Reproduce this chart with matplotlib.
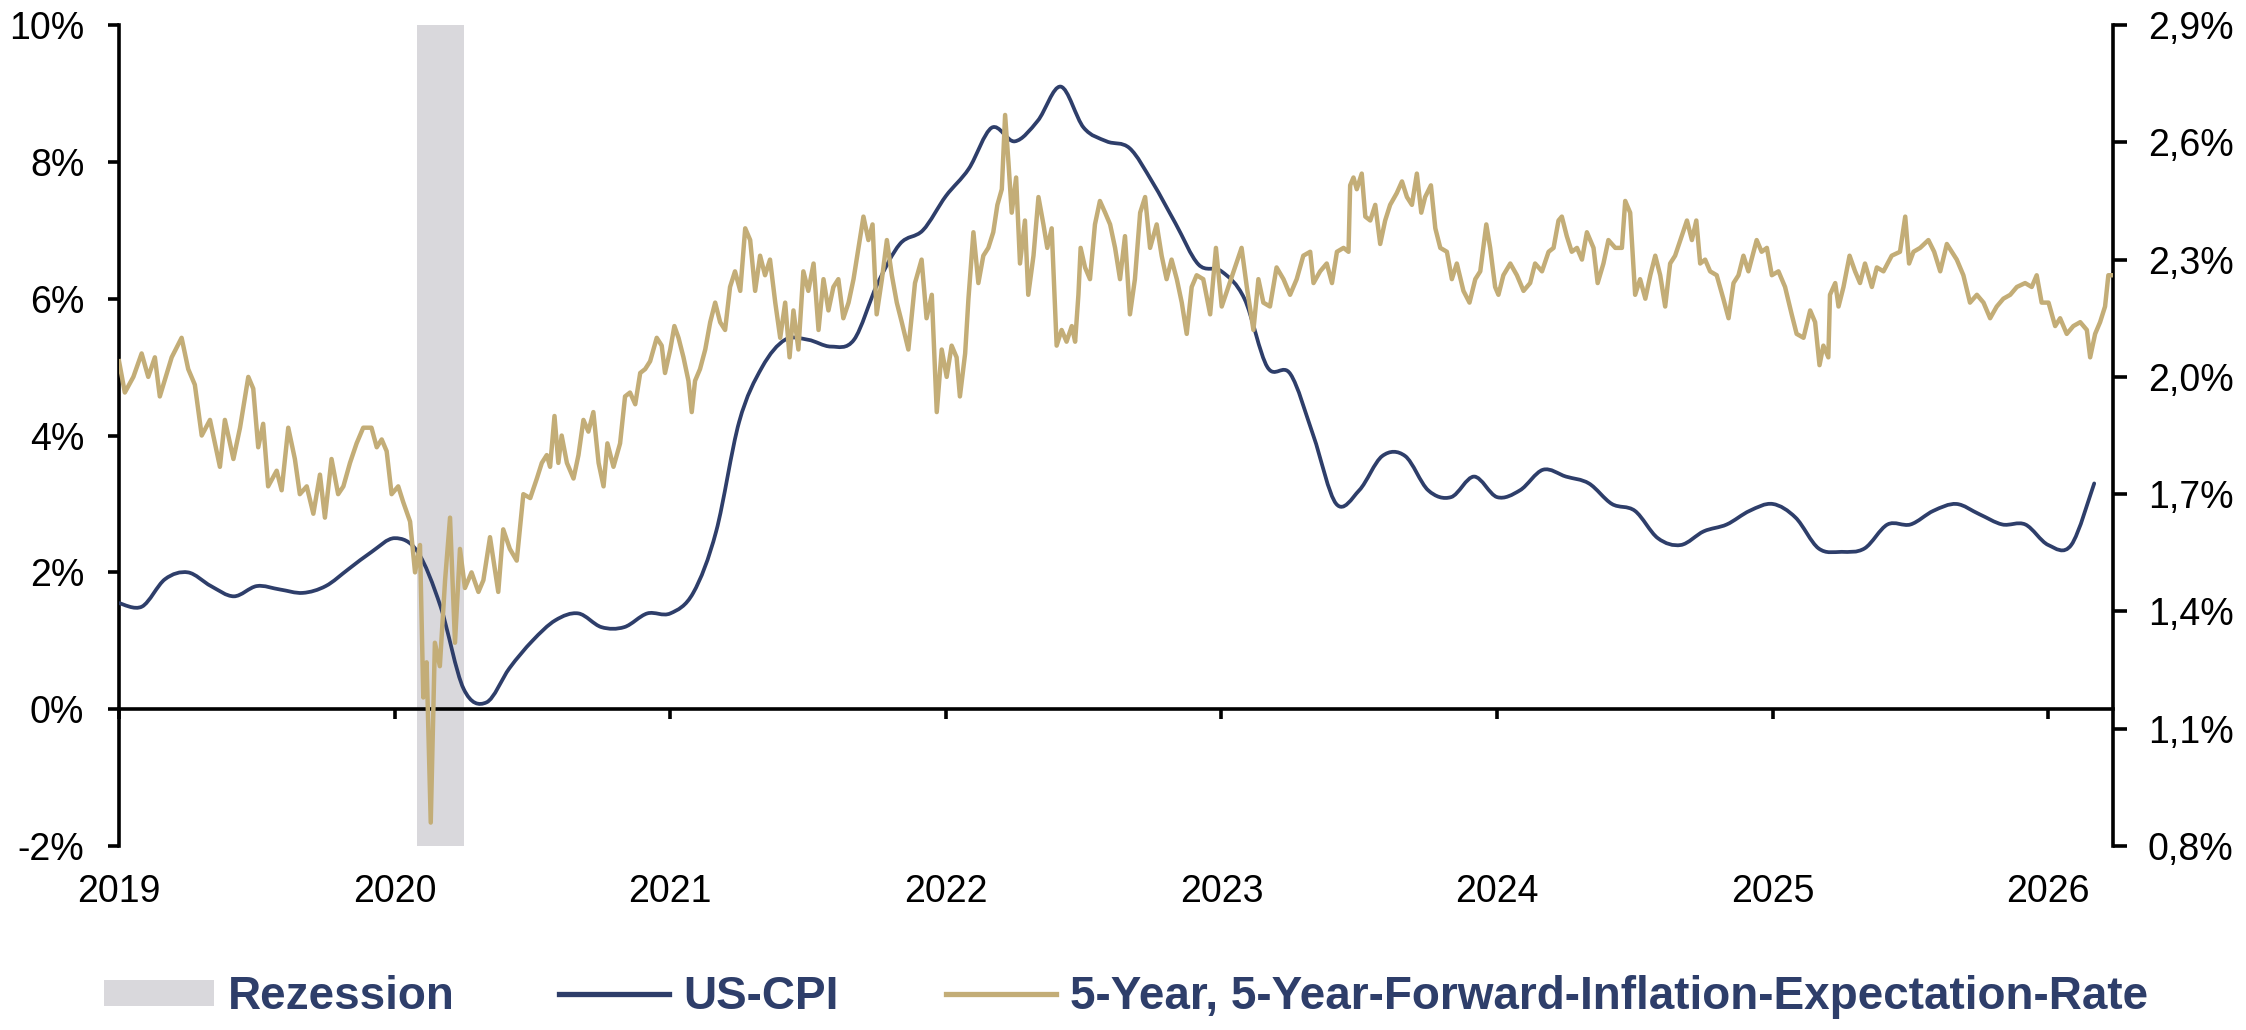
import matplotlib
matplotlib.use('Agg')
import matplotlib.pyplot as plt
import pandas as pd
from matplotlib.path import Path
from matplotlib.patches import PathPatch, Patch
from matplotlib.lines import Line2D

NAVY = '#2E3E6A'
GOLD = '#C3AD77'
GREY = '#D9D8DC'

plt.rcParams['font.family'] = ['Liberation Sans', 'DejaVu Sans']

# axes / labels
years = [2019, 2020, 2021, 2022, 2023, 2024, 2025, 2026]
year_labels = ['2019', '2020', '2021', '2022', '2023', '2024', '2025', '2026']
left_ticks = [-2, 0, 2, 4, 6, 8, 10]
left_labels = ['-2%', '0%', '2%', '4%', '6%', '8%', '10%']
right_ticks = [0.8, 1.1, 1.4, 1.7, 2.0, 2.3, 2.6, 2.9]
right_labels = ['0,8%', '1,1%', '1,4%', '1,7%', '2,0%', '2,3%', '2,6%', '2,9%']

legend_labels = ['Rezession', 'US-CPI', '5-Year, 5-Year-Forward-Inflation-Expectation-Rate']

# recession band (decimal years)
rezession = (2020.08, 2020.25)

# US-CPI y/y in %, monthly Jan 2019 - Mar 2026
cpi_months = pd.date_range('2019-01-01', '2026-03-01', freq='MS')
cpi_values = [
    1.55, 1.5, 1.9, 2.0, 1.8, 1.65, 1.8, 1.75, 1.7, 1.8, 2.05, 2.3,   # 2019
    2.5, 2.3, 1.5, 0.3, 0.1, 0.6, 1.0, 1.3, 1.4, 1.2, 1.2, 1.4,       # 2020
    1.4, 1.7, 2.6, 4.2, 5.0, 5.4, 5.4, 5.3, 5.4, 6.2, 6.8, 7.0,       # 2021
    7.5, 7.9, 8.5, 8.3, 8.6, 9.1, 8.5, 8.3, 8.2, 7.7, 7.1, 6.5,       # 2022
    6.4, 6.0, 5.0, 4.9, 4.0, 3.0, 3.2, 3.7, 3.7, 3.2, 3.1, 3.4,       # 2023
    3.1, 3.2, 3.5, 3.4, 3.3, 3.0, 2.9, 2.5, 2.4, 2.6, 2.7, 2.9,       # 2024
    3.0, 2.8, 2.35, 2.3, 2.35, 2.7, 2.7, 2.9, 3.0, 2.85, 2.7, 2.7,    # 2025
    2.4, 2.4, 3.3,                                                    # 2026
]

# 5y5y forward inflation expectation in % (decimal year, value)
ie_years = [
    2019.000, 2019.021, 2019.052, 2019.082, 2019.106, 2019.130, 2019.148, 2019.191, 2019.227, 2019.251,
    2019.275, 2019.300, 2019.330, 2019.366, 2019.384, 2019.415, 2019.439, 2019.469, 2019.487, 2019.505,
    2019.523, 2019.541, 2019.572, 2019.590, 2019.614, 2019.638, 2019.656, 2019.681, 2019.705, 2019.729,
    2019.747, 2019.771, 2019.795, 2019.814, 2019.838, 2019.862, 2019.886, 2019.916, 2019.935, 2019.953,
    2019.971, 2019.989, 2020.013, 2020.031, 2020.056, 2020.074, 2020.092, 2020.104, 2020.116, 2020.131,
    2020.146, 2020.164, 2020.183, 2020.201, 2020.219, 2020.237, 2020.255, 2020.279, 2020.304, 2020.322,
    2020.346, 2020.376, 2020.394, 2020.418, 2020.443, 2020.467,
    2020.492, 2020.516, 2020.534, 2020.552, 2020.564, 2020.580, 2020.594, 2020.606, 2020.625, 2020.649,
    2020.667, 2020.685, 2020.703, 2020.721, 2020.740, 2020.758, 2020.772, 2020.794, 2020.818, 2020.836,
    2020.854, 2020.873, 2020.891, 2020.909, 2020.927, 2020.951, 2020.969, 2020.981, 2021.000, 2021.015,
    2021.030, 2021.048, 2021.066, 2021.078, 2021.090, 2021.108, 2021.127, 2021.145, 2021.163, 2021.181,
    2021.199, 2021.217, 2021.235, 2021.254, 2021.272, 2021.290, 2021.308, 2021.326, 2021.344, 2021.362,
    2021.381, 2021.399, 2021.417, 2021.433, 2021.447, 2021.465, 2021.483, 2021.501, 2021.520, 2021.538,
    2021.556, 2021.574, 2021.592, 2021.610, 2021.628, 2021.647, 2021.665, 2021.683, 2021.701, 2021.719,
    2021.734, 2021.749, 2021.768, 2021.786, 2021.804, 2021.822, 2021.840, 2021.864,
    2021.888, 2021.912, 2021.930, 2021.949, 2021.967, 2021.985, 2022.003, 2022.021, 2022.039, 2022.051,
    2022.070, 2022.082, 2022.100, 2022.118, 2022.136, 2022.154, 2022.172, 2022.187, 2022.203, 2022.215,
    2022.227, 2022.239, 2022.255, 2022.269, 2022.287, 2022.299, 2022.318, 2022.336, 2022.354, 2022.368,
    2022.384, 2022.402, 2022.420, 2022.438, 2022.457, 2022.469, 2022.481, 2022.489, 2022.505, 2022.523,
    2022.541, 2022.559, 2022.578, 2022.596, 2022.614, 2022.632, 2022.650, 2022.668, 2022.686, 2022.705,
    2022.723, 2022.741, 2022.765, 2022.783, 2022.801, 2022.819, 2022.838, 2022.856, 2022.874, 2022.892,
    2022.910, 2022.934, 2022.959, 2022.980, 2023.001, 2023.025, 2023.049, 2023.073, 2023.092, 2023.116,
    2023.134, 2023.152, 2023.176, 2023.200, 2023.225, 2023.249, 2023.273, 2023.297,
    2023.322, 2023.334, 2023.358, 2023.382, 2023.401, 2023.419, 2023.443, 2023.461, 2023.467, 2023.479,
    2023.491, 2023.509, 2023.522, 2023.540, 2023.558, 2023.576, 2023.594, 2023.612, 2023.636, 2023.655,
    2023.673, 2023.691, 2023.709, 2023.725, 2023.739, 2023.760, 2023.776, 2023.794, 2023.818, 2023.836,
    2023.854, 2023.878, 2023.900, 2023.921, 2023.939, 2023.961, 2023.975, 2023.993, 2024.005, 2024.023,
    2024.048, 2024.072, 2024.096, 2024.120, 2024.138, 2024.163, 2024.187, 2024.205, 2024.223, 2024.235,
    2024.253, 2024.271, 2024.290, 2024.308, 2024.326, 2024.350, 2024.365, 2024.386, 2024.404, 2024.429,
    2024.453, 2024.465, 2024.483, 2024.501, 2024.519, 2024.538, 2024.556, 2024.574, 2024.592, 2024.610,
    2024.628, 2024.646, 2024.665, 2024.689, 2024.707, 2024.723, 2024.737, 2024.755,
    2024.773, 2024.797, 2024.821, 2024.840, 2024.858, 2024.876, 2024.894, 2024.912, 2024.942, 2024.960,
    2024.979, 2024.997, 2025.021, 2025.045, 2025.069, 2025.087, 2025.112, 2025.136, 2025.154, 2025.170,
    2025.184, 2025.202, 2025.208, 2025.227, 2025.239, 2025.257, 2025.279, 2025.299, 2025.317, 2025.335,
    2025.360, 2025.378, 2025.402, 2025.432, 2025.462, 2025.481, 2025.495, 2025.511, 2025.535, 2025.565,
    2025.586, 2025.608, 2025.632, 2025.650, 2025.668, 2025.692, 2025.716, 2025.741, 2025.765, 2025.789,
    2025.813, 2025.837, 2025.862, 2025.886, 2025.916, 2025.940, 2025.958, 2025.976, 2026.001, 2026.025,
    2026.043, 2026.067, 2026.091, 2026.116, 2026.140, 2026.152, 2026.170, 2026.188, 2026.206, 2026.218,
    2026.230,
]
ie_values = [
    2.04, 1.96, 2.00, 2.06, 2.00, 2.05, 1.95, 2.05, 2.10, 2.02,
    1.98, 1.85, 1.89, 1.77, 1.89, 1.79, 1.87, 2.00, 1.97, 1.82,
    1.88, 1.72, 1.76, 1.71, 1.87, 1.79, 1.70, 1.72, 1.65, 1.75,
    1.64, 1.79, 1.70, 1.72, 1.78, 1.83, 1.87, 1.87, 1.82, 1.84,
    1.81, 1.70, 1.72, 1.68, 1.63, 1.50, 1.57, 1.18, 1.27, 0.86,
    1.32, 1.26, 1.48, 1.64, 1.32, 1.56, 1.46, 1.50, 1.45, 1.48,
    1.59, 1.45, 1.61, 1.56, 1.53, 1.70,
    1.69, 1.74, 1.78, 1.80, 1.77, 1.90, 1.78, 1.85, 1.78, 1.74,
    1.80, 1.89, 1.86, 1.91, 1.78, 1.72, 1.83, 1.77, 1.83, 1.95,
    1.96, 1.93, 2.01, 2.02, 2.04, 2.10, 2.08, 2.01, 2.07, 2.13,
    2.10, 2.05, 1.99, 1.91, 1.99, 2.02, 2.07, 2.14, 2.19, 2.14,
    2.12, 2.23, 2.27, 2.22, 2.38, 2.35, 2.22, 2.31, 2.26, 2.30,
    2.19, 2.10, 2.19, 2.05, 2.17, 2.07, 2.27, 2.22, 2.29, 2.12,
    2.25, 2.17, 2.23, 2.25, 2.15, 2.19, 2.25, 2.33, 2.41, 2.35,
    2.39, 2.16, 2.25, 2.35, 2.26, 2.19, 2.14, 2.07,
    2.24, 2.30, 2.15, 2.21, 1.91, 2.07, 2.00, 2.08, 2.05, 1.95,
    2.06, 2.20, 2.37, 2.24, 2.31, 2.33, 2.37, 2.44, 2.48, 2.67,
    2.55, 2.42, 2.51, 2.29, 2.40, 2.21, 2.31, 2.46, 2.39, 2.33,
    2.38, 2.08, 2.12, 2.09, 2.13, 2.09, 2.21, 2.33, 2.28, 2.25,
    2.39, 2.45, 2.42, 2.39, 2.33, 2.25, 2.36, 2.16, 2.25, 2.42,
    2.46, 2.33, 2.39, 2.31, 2.25, 2.30, 2.25, 2.19, 2.11, 2.23,
    2.26, 2.25, 2.16, 2.33, 2.18, 2.23, 2.28, 2.33, 2.23, 2.12,
    2.25, 2.19, 2.18, 2.28, 2.25, 2.21, 2.25, 2.31,
    2.32, 2.24, 2.27, 2.29, 2.24, 2.32, 2.33, 2.32, 2.49, 2.51,
    2.48, 2.52, 2.41, 2.40, 2.44, 2.34, 2.40, 2.44, 2.47, 2.50,
    2.46, 2.44, 2.52, 2.42, 2.46, 2.49, 2.38, 2.33, 2.32, 2.25,
    2.29, 2.22, 2.19, 2.25, 2.27, 2.39, 2.33, 2.23, 2.21, 2.26,
    2.29, 2.26, 2.22, 2.24, 2.29, 2.27, 2.32, 2.33, 2.40, 2.41,
    2.36, 2.32, 2.33, 2.30, 2.37, 2.33, 2.24, 2.29, 2.35, 2.33,
    2.33, 2.45, 2.42, 2.21, 2.25, 2.20, 2.26, 2.31, 2.26, 2.18,
    2.29, 2.31, 2.35, 2.40, 2.35, 2.40, 2.29, 2.30,
    2.27, 2.26, 2.20, 2.15, 2.24, 2.26, 2.31, 2.27, 2.35, 2.32,
    2.33, 2.26, 2.27, 2.23, 2.16, 2.11, 2.10, 2.17, 2.14, 2.03,
    2.08, 2.05, 2.21, 2.24, 2.18, 2.23, 2.31, 2.27, 2.24, 2.29,
    2.23, 2.28, 2.27, 2.31, 2.32, 2.41, 2.29, 2.32, 2.33, 2.35,
    2.32, 2.27, 2.34, 2.32, 2.30, 2.26, 2.19, 2.21, 2.19, 2.15,
    2.18, 2.20, 2.21, 2.23, 2.24, 2.23, 2.26, 2.19, 2.19, 2.13,
    2.15, 2.11, 2.13, 2.14, 2.12, 2.05, 2.11, 2.14, 2.18, 2.26,
    2.26,
]


def smooth_path(x, y):
    # Excel-style smoothed line: cubic bezier segments through every point
    n = len(x)
    verts = [(x[0], y[0])]
    codes = [Path.MOVETO]
    for i in range(n - 1):
        a = max(i - 1, 0)
        b = min(i + 2, n - 1)
        c1 = (x[i] + (x[i + 1] - x[a]) / 6, y[i] + (y[i + 1] - y[a]) / 6)
        c2 = (x[i + 1] - (x[b] - x[i]) / 6, y[i + 1] - (y[b] - y[i]) / 6)
        verts += [c1, c2, (x[i + 1], y[i + 1])]
        codes += [Path.CURVE4] * 3
    return Path(verts, codes)


cpi_x = list(cpi_months.year + (cpi_months.month - 1) / 12)

fig = plt.figure(figsize=(22.46, 10.30), dpi=100)
ax = fig.add_axes([0.0530, 0.1786, 0.8878, 0.7971])

ax.axvspan(rezession[0], rezession[1], color=GREY, lw=0, zorder=0)
ax.add_patch(PathPatch(smooth_path(cpi_x, cpi_values), fill=False, edgecolor=NAVY,
                       lw=2.7, capstyle='round', joinstyle='round', zorder=3))

ax.set_xlim(2019, 2026.235)
ax.set_ylim(-2, 10)
for s in ['top', 'right']:
    ax.spines[s].set_visible(False)
ax.spines['bottom'].set_position(('data', 0))
ax.spines['bottom'].set_linewidth(2.6)
ax.spines['left'].set_linewidth(2.6)
ax.set_xticks(years)
ax.tick_params(axis='x', direction='out', length=7, width=2.6, labelbottom=False)
ax.set_yticks(left_ticks, left_labels)
ax.tick_params(axis='y', direction='out', length=8, width=2.6, pad=17, labelsize=27)

ax2 = ax.twinx()
ax2.plot(ie_years, ie_values, color=GOLD, lw=3.2, solid_joinstyle='round', zorder=4)
ax2.set_ylim(0.8, 2.9)
ax2.set_yticks(right_ticks, right_labels)
ax2.tick_params(axis='y', direction='out', length=10, width=2.6, pad=15, labelsize=27)
for s in ['top', 'left', 'bottom']:
    ax2.spines[s].set_visible(False)
ax2.spines['right'].set_linewidth(2.6)
ax2.xaxis.set_visible(True)
ax2.set_xticks(years, year_labels)
ax2.tick_params(axis='x', length=0, pad=20, labelsize=27, bottom=True, labelbottom=True, top=False)
ax2.set_xlim(2019, 2026.235)

# legend, three entries spread along the bottom
handles = [Patch(facecolor=GREY, edgecolor='none'),
           Line2D([], [], color=NAVY, lw=3.8),
           Line2D([], [], color=GOLD, lw=3.8)]
starts = [104, 559, 946]
prop = {'family': 'Liberation Sans', 'weight': 'bold', 'size': 33}
for h, lab, x0 in zip(handles, legend_labels, starts):
    fig.legend([h], [lab], loc='center left', bbox_to_anchor=(x0 / 2246, 0.032),
               frameon=False, borderpad=0, borderaxespad=0, handlelength=2.4,
               handletextpad=0.3, handleheight=0.5, prop=prop, labelcolor=NAVY)

fig.savefig('out.png', dpi=100)
